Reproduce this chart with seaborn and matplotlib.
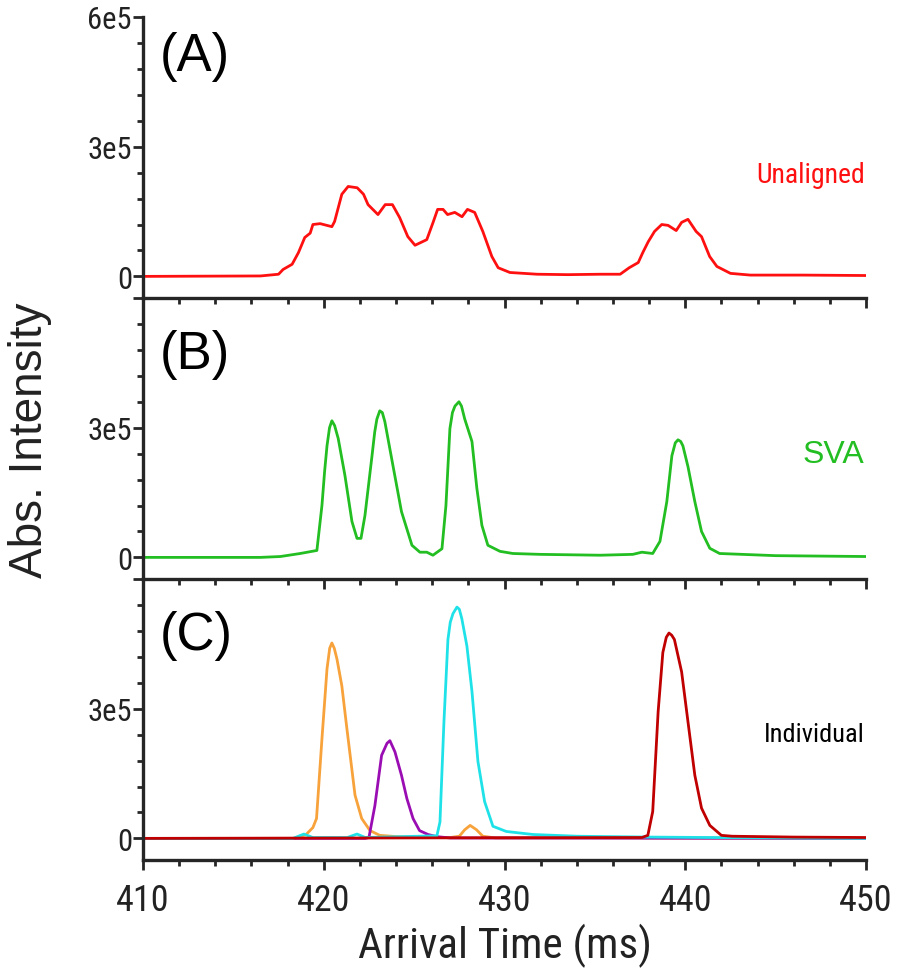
import matplotlib
matplotlib.use("Agg")
import matplotlib.pyplot as plt
from matplotlib import font_manager
from matplotlib.ticker import MultipleLocator, FixedLocator
import seaborn as sns
import pandas as pd

# ---------------- data (intensity in units of 1e5) ----------------
unaligned_t = [410, 416.5, 417.5, 417.75, 418.25, 418.6, 418.95, 419.25, 419.4, 419.8, 420.45, 420.6,
               421.0, 421.35, 421.85, 422.2, 422.45, 423.0, 423.4, 423.8, 424.2, 424.65, 425.05, 425.7,
               426.05, 426.3, 426.6, 426.85, 427.25, 427.65, 427.95, 428.35, 428.8, 429.3, 429.65, 430.3,
               431.8, 433.5, 435.3, 436.4, 436.9, 437.4, 437.65, 437.95, 438.3, 438.7, 439.05, 439.5,
               439.8, 440.15, 440.6, 440.9, 441.35, 441.75, 442.5, 443.6, 446.5, 450]
unaligned_v = [0, 0.01, 0.05, 0.16, 0.28, 0.55, 0.9, 1.0, 1.2, 1.22, 1.15, 1.27,
               1.9, 2.08, 2.05, 1.9, 1.66, 1.43, 1.66, 1.66, 1.36, 0.92, 0.72, 0.85,
               1.25, 1.55, 1.55, 1.43, 1.48, 1.38, 1.55, 1.48, 1.04, 0.46, 0.2, 0.09,
               0.05, 0.04, 0.05, 0.05, 0.2, 0.32, 0.55, 0.8, 1.04, 1.2, 1.18, 1.06,
               1.25, 1.32, 1.04, 0.92, 0.46, 0.23, 0.07, 0.03, 0.03, 0.02]

sva_t = [410, 416.5, 417.6, 418.7, 419.35, 419.62, 419.9, 420.05, 420.18, 420.32, 420.45, 420.6,
         420.8, 421.17, 421.56, 421.84, 422.06, 422.28, 422.67, 422.82, 422.94, 423.1, 423.24, 423.38,
         423.83, 424.3, 424.88, 425.32, 425.7, 426.04, 426.54, 426.76, 426.98, 427.12, 427.26, 427.48,
         427.62, 427.8, 428.2, 428.47, 428.75, 429.08, 429.75, 430.46, 431.96, 435.3, 437.1, 437.6,
         438.2, 438.6, 438.98, 439.26, 439.45, 439.6, 439.75, 439.87, 440.15, 440.53, 440.9, 441.36,
         441.9, 445, 450]
sva_v = [0, 0.0, 0.02, 0.09, 0.14, 0.16, 1.2, 2.0, 2.58, 3.0, 3.16, 3.05,
         2.75, 1.9, 0.83, 0.44, 0.44, 0.97, 2.35, 2.9, 3.2, 3.39, 3.35, 3.14,
         2.12, 1.06, 0.28, 0.12, 0.12, 0.05, 0.2, 1.2, 2.98, 3.35, 3.5, 3.6,
         3.5, 3.2, 2.68, 1.6, 0.74, 0.28, 0.14, 0.09, 0.07, 0.05, 0.07, 0.12,
         0.09, 0.37, 1.29, 2.35, 2.65, 2.72, 2.68, 2.58, 2.1, 1.29, 0.6, 0.21,
         0.09, 0.04, 0.02]

orange_t = [410, 418.4, 418.7, 419.0, 419.4, 419.6, 419.9, 420.18, 420.33, 420.45, 420.58, 420.73,
            421.0, 421.28, 421.73, 422.1, 422.56, 423.1, 424.05, 427.0, 427.5, 427.8, 428.1, 428.45,
            428.8, 429.5, 450]
orange_v = [0, 0.0, 0.05, 0.08, 0.25, 0.46, 2.3, 3.92, 4.4, 4.52, 4.4, 4.15,
            3.53, 2.54, 1.0, 0.46, 0.18, 0.07, 0.04, 0.02, 0.05, 0.2, 0.3, 0.2,
            0.05, 0.01, 0]

purple_t = [410, 422.3, 422.5, 422.83, 423.2, 423.5, 423.66, 423.94, 424.3, 424.6, 424.94, 425.3,
            425.77, 426.25, 427, 450]
purple_v = [0, 0, 0.02, 0.76, 1.92, 2.2, 2.26, 2.0, 1.46, 0.92, 0.46, 0.18,
            0.09, 0.04, 0.01, 0]

cyan_t = [410, 418.3, 418.9, 419.4, 421.3, 421.84, 422.3, 426.26, 426.43, 426.65, 426.87, 427.0,
          427.15, 427.37, 427.5, 427.64, 427.92, 428.2, 428.53, 428.9, 429.36, 430.1, 431.57, 434,
          438, 441.5, 450]
cyan_v = [0, 0, 0.1, 0.02, 0.02, 0.1, 0.02, 0.06, 0.38, 2.7, 4.6, 5.0,
          5.2, 5.35, 5.3, 5.08, 4.45, 3.4, 1.78, 0.85, 0.28, 0.16, 0.09, 0.05,
          0.03, 0.02, 0]

darkred_t = [410, 437.6, 437.93, 438.2, 438.5, 438.76, 438.95, 439.1, 439.25, 439.4, 439.8, 440.15,
             440.53, 440.9, 441.36, 442.0, 442.6, 446, 450]
darkred_v = [0, 0.02, 0.07, 0.62, 2.93, 4.3, 4.65, 4.75, 4.7, 4.6, 3.85, 2.7,
             1.46, 0.7, 0.3, 0.07, 0.05, 0.03, 0.02]

panel_labels = ["(A)", "(B)", "(C)"]
panel_names = ["Unaligned", "SVA", "Individual"]
x_ticks = [410, 420, 430, 440, 450]
y_ticks = [0, 3e5, 6e5]
y_ticklabels = ["0", "3e5", "6e5"]

# ---------------- styling ----------------
sns.set_style("ticks")
names = {f.name for f in font_manager.fontManager.ttflist}
narrow = "Liberation Sans"
for cand in ["Liberation Sans Narrow", "Arial Narrow", "Roboto Condensed", "Archivo Narrow"]:
    if cand in names:
        narrow = cand
        break
plt.rcParams["font.family"] = ["Liberation Sans", "DejaVu Sans"]

RED = "#FF1010"
GREEN = "#22BE22"
ORANGE = "#F7A23B"
PURPLE = "#9A0DB3"
CYAN = "#1FE2E8"
DARKRED = "#C00000"
SPINE = "#262626"
TXT = "#222222"
LW = 2.0

fig = plt.figure(figsize=(9.0, 9.78), dpi=100)
W, H = 900.0, 978.0
left_px, right_px = 143, 866
tops = [18, 299, 580]
ph = 281
axes = []
for top in tops:
    ax = fig.add_axes([left_px / W, 1 - (top + ph) / H, (right_px - left_px) / W, ph / H])
    ax.patch.set_alpha(0)
    axes.append(ax)


def make_df(t, v, name):
    return pd.DataFrame({"t": t, "I": [x * 1e5 for x in v], "s": name})


dfA = make_df(unaligned_t, unaligned_v, "Unaligned")
dfB = make_df(sva_t, sva_v, "SVA")
dfC = pd.concat([make_df(orange_t, orange_v, "o"), make_df(purple_t, purple_v, "p"),
                 make_df(cyan_t, cyan_v, "c"), make_df(darkred_t, darkred_v, "r")], ignore_index=True)

sns.lineplot(data=dfA, x="t", y="I", ax=axes[0], color=RED, lw=LW, estimator=None, sort=False, legend=False)
sns.lineplot(data=dfB, x="t", y="I", ax=axes[1], color=GREEN, lw=LW, estimator=None, sort=False, legend=False)
sns.lineplot(data=dfC, x="t", y="I", hue="s", hue_order=["o", "p", "c", "r"],
             palette=[ORANGE, PURPLE, CYAN, DARKRED], ax=axes[2], lw=LW, estimator=None,
             sort=False, legend=False)

label_y = [0.861, 0.80, 0.80]
name_y = [0.438, 0.445, 0.448]
name_colors = [RED, GREEN, "black"]
name_sizes = [20, 23, 19]
name_fams = [narrow, "Liberation Sans", narrow]

for i, ax in enumerate(axes):
    ax.set_xlim(410, 450)
    ax.set_ylim(-0.5e5, 6e5)
    for s in ["top", "right"]:
        ax.spines[s].set_visible(False)
    for s in ["left", "bottom"]:
        ax.spines[s].set_linewidth(2.4)
        ax.spines[s].set_color(SPINE)
    ax.xaxis.set_major_locator(FixedLocator(x_ticks))
    ax.xaxis.set_minor_locator(MultipleLocator(2))
    ax.yaxis.set_major_locator(FixedLocator(y_ticks))
    ax.yaxis.set_minor_locator(MultipleLocator(0.6e5))
    labels = list(y_ticklabels)
    if i > 0:
        labels[-1] = ""
    ax.set_yticklabels(labels, fontsize=22, fontfamily=narrow, color=TXT)
    ax.tick_params(axis="both", which="major", direction="out", length=7, width=2.0, color=SPINE)
    ax.tick_params(axis="both", which="minor", direction="out", length=4, width=2.0, color=SPINE)
    ax.tick_params(axis="y", which="major", pad=1)
    if i < 2:
        ax.tick_params(axis="x", labelbottom=False)
    else:
        ax.set_xticklabels([str(v) for v in x_ticks], fontsize=26, fontfamily=narrow, color=TXT)
        ax.tick_params(axis="x", which="major", pad=9)
    ax.set_xlabel("")
    ax.set_ylabel("")
    ax.text(0.0235, label_y[i], panel_labels[i], transform=ax.transAxes, fontsize=38,
            ha="left", va="center", color="black")
    ax.text(0.998, name_y[i], panel_names[i], transform=ax.transAxes, fontsize=name_sizes[i],
            family=name_fams[i], ha="right", va="center", color=name_colors[i])

fig.text(30 / W, 1 - 440 / H, "Abs. Intensity", rotation=90, ha="center", va="center",
         fontsize=33, color=TXT)
fig.text(505 / W, 1 - 946 / H, "Arrival Time (ms)", ha="center", va="center",
         fontsize=31, fontfamily=narrow, color=TXT)

fig.savefig("out.png", dpi=100)
